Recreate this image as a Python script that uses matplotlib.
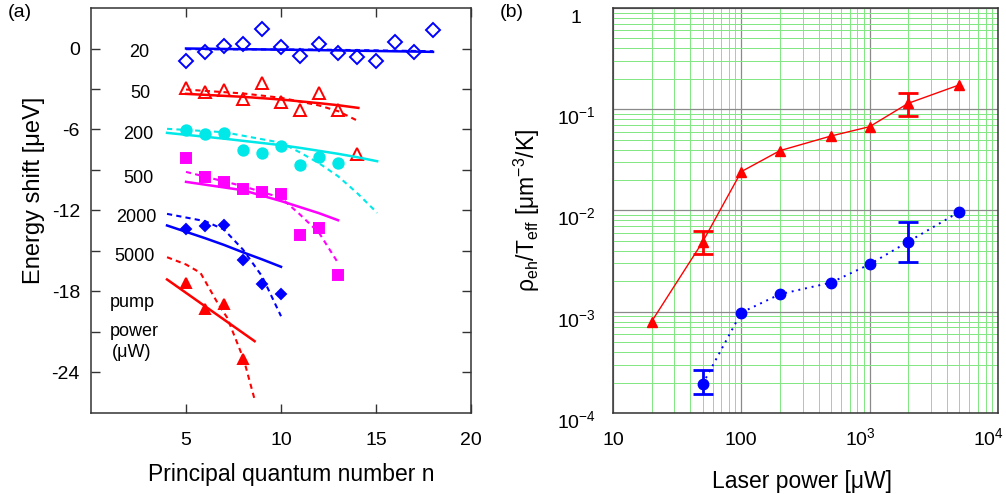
import numpy as np
import matplotlib
matplotlib.use("Agg")
import matplotlib.pyplot as plt
from matplotlib.ticker import LogLocator, NullFormatter, FixedLocator, FixedFormatter
from matplotlib.transforms import ScaledTranslation

plt.rcParams['font.family'] = ['Liberation Sans', 'DejaVu Sans']
plt.rcParams['mathtext.fontset'] = 'custom'
plt.rcParams['mathtext.rm'] = 'Liberation Sans'
plt.rcParams['mathtext.it'] = 'Liberation Sans:italic'
plt.rcParams['mathtext.bf'] = 'Liberation Sans:bold'
plt.rcParams['axes.unicode_minus'] = False

# ---- (a) energy shift vs principal quantum number, one set per pump power ----
n_20 = list(range(5, 19))
shift_20 = [-0.9, -0.27, 0.17, 0.30, 1.46, 0.12, -0.57, 0.30, -0.37, -0.64, -0.96, 0.47, -0.27, 1.38]
n_50 = list(range(5, 15))
shift_50 = [-2.91, -3.23, -3.04, -3.73, -2.54, -3.95, -4.52, -3.33, -4.52, -7.85]
n_200 = list(range(5, 14))
shift_200 = [-6.07, -6.35, -6.25, -7.53, -7.73, -7.23, -8.64, -8.05, -8.45]
n_500 = list(range(5, 14))
shift_500 = [-8.12, -9.53, -9.9, -10.44, -10.62, -10.81, -13.85, -13.26, -16.79]
n_2000 = list(range(5, 11))
shift_2000 = [-13.36, -13.16, -13.06, -15.7, -17.48, -18.17]
n_5000 = [5, 6, 7, 8]
shift_5000 = [-17.36, -19.28, -18.91, -22.99]

# model curves (solid and dotted) for each power
fit20_n = [5, 12, 18]
fit20_solid = [0.0, -0.12, -0.25]
fit20_dot = [-0.05, -0.08, -0.2]
fit50_n = [5, 8, 10, 12, 13, 14.07]
fit50_solid = [-3.36, -3.58, -3.78, -4.05, -4.2, -4.4]
fit50_dot = [-3.04, -3.33, -3.65, -4.22, -4.64, -5.38]
fit200_n = [4, 7, 10, 11, 12, 13, 14, 15.06]
fit200_solid = [-6.25, -6.68, -7.16, -7.36, -7.58, -7.8, -8.05, -8.35]
fit200_dot = [-5.95, -6.2, -6.98, -7.7, -8.5, -9.46, -10.7, -12.17]
fit500_n = [5, 8, 10, 11, 12, 13]
fit500_solid = [-9.88, -10.5, -11.3, -11.75, -12.2, -12.72]
fit500_dot = [-9.14, -10.2, -11.06, -12.3, -13.65, -15.88]
fit2000_n = [4, 6, 7, 8, 9, 10]
fit2000_solid = [-13.11, -14.05, -14.55, -15.1, -15.62, -16.17]
fit2000_dot = [-12.25, -12.79, -13.41, -14.9, -16.87, -19.83]
fit5000_n = [4, 8.61]
fit5000_solid = [-17.11, -21.68]
fit5000_dot_n = [4, 5, 5.76, 6.64, 7.17, 8.04, 8.61]
fit5000_dot = [-15.46, -16.0, -16.62, -18.8, -19.95, -23.04, -26.0]

power_labels = ['20', '50', '200', '500', '2000', '5000']
label_x = [2.56, 2.6, 2.5, 2.52, 2.38, 2.27]
label_y = [-0.3, -3.33, -6.37, -9.63, -12.5, -15.4]

# ---- (b) density / temperature vs laser power ----
power_tri = [20, 50, 100, 200, 500, 1000, 2000, 5000]
rho_tri = [8.0e-4, 4.9e-3, 0.0242, 0.039, 0.0544, 0.0673, 0.1145, 0.174]
tri_err_idx = [1, 6]
tri_err_lo = [3.7e-3, 0.0857]
tri_err_hi = [6.3e-3, 0.146]

power_dot = [50, 100, 200, 500, 1000, 2000, 5000]
rho_dot = [1.93e-4, 9.8e-4, 1.49e-3, 1.94e-3, 2.94e-3, 4.92e-3, 9.7e-3]
dot_err_idx = [0, 5]
dot_err_lo = [1.54e-4, 3.12e-3]
dot_err_hi = [2.66e-4, 7.76e-3]

fig = plt.figure(figsize=(10.06, 4.94), dpi=100)
ax1 = fig.add_axes([0.0905, 0.164, 0.3777, 0.8198])
ax2 = fig.add_axes([0.6093, 0.164, 0.3827, 0.8198])

blue = '#0000ff'
red = '#ff0000'
cyan = '#00e8e8'
magenta = '#ff00ff'
dash = (0, (2.5, 2))

sets = [
    (n_20, shift_20, blue, 'D', False, 7, fit20_n, fit20_solid, fit20_n, fit20_dot),
    (n_50, shift_50, red, '^', False, 8.5, fit50_n, fit50_solid, fit50_n, fit50_dot),
    (n_200, shift_200, cyan, 'o', True, 7.5, fit200_n, fit200_solid, fit200_n, fit200_dot),
    (n_500, shift_500, magenta, 's', True, 6.5, fit500_n, fit500_solid, fit500_n, fit500_dot),
    (n_2000, shift_2000, blue, 'D', True, 5.5, fit2000_n, fit2000_solid, fit2000_n, fit2000_dot),
    (n_5000, shift_5000, red, '^', True, 7.5, fit5000_n, fit5000_solid, fit5000_dot_n, fit5000_dot),
]
for n, e, c, m, filled, ms, sn, se, dn, de in sets:
    ax1.plot(sn, se, color=c, lw=1.8)
    ax1.plot(dn, de, color=c, lw=1.5, linestyle=dash)
    ax1.plot(n, e, linestyle='none', marker=m, ms=ms, mew=1.4,
             mec=c, mfc=c if filled else 'none')

for txt, x, y in zip(power_labels, label_x, label_y):
    ax1.text(x, y, txt, ha='center', va='center', fontsize=13)
ax1.text(1.0, -18.8, 'pump', ha='left', va='center', fontsize=13)
ax1.text(1.0, -20.96, 'power', ha='left', va='center', fontsize=13)
ax1.text(1.1, -22.5, '(μW)', ha='left', va='center', fontsize=13)

ax1.set_xlim(0, 20)
ax1.set_ylim(-27, 3)
ax1.set_xticks([5, 10, 15, 20])
ax1.set_yticks([-24, -18, -12, -6, 0])
ax1.set_yticks([-21, -15, -9, -3], minor=True)
ax1.tick_params(which='both', direction='in', top=True, right=True,
                length=6.5, width=1, labelsize=14, color='#333333')
ax1.tick_params(axis='x', pad=14)
ax1.tick_params(axis='y', pad=8)
for s in ax1.spines.values():
    s.set_linewidth(1.1)
    s.set_color('#333333')
ax1.set_xlabel('Principal quantum number n', fontsize=16.5)
ax1.set_ylabel('Energy shift [μeV]', fontsize=17)
ax1.xaxis.set_label_coords(0.526, -0.123)
ax1.yaxis.set_label_coords(-0.121, 0.55)

# ---- (b) ----
ax2.set_xscale('log')
ax2.set_yscale('log')
ax2.set_xlim(10, 1e4)
ax2.set_ylim(1e-4, 1)

ax2.xaxis.set_major_locator(FixedLocator([10, 100, 1e3, 1e4]))
ax2.xaxis.set_major_formatter(FixedFormatter(['10', '100', r'$10^{3}$', r'$10^{4}$']))
ax2.yaxis.set_major_locator(FixedLocator([1e-4, 1e-3, 1e-2, 1e-1, 1]))
ax2.yaxis.set_major_formatter(FixedFormatter([r'$10^{-4}$', r'$10^{-3}$', r'$10^{-2}$',
                                              r'$10^{-1}$', '1']))
for axis in (ax2.xaxis, ax2.yaxis):
    axis.set_minor_locator(LogLocator(base=10, subs=np.arange(2, 10), numticks=20))
    axis.set_minor_formatter(NullFormatter())

ax2.grid(which='minor', color='#80e880', lw=0.7)
ax2.grid(which='major', color='#8a8a8a', lw=0.9)
ax2.set_axisbelow(True)
ax2.tick_params(which='both', length=0, labelsize=14)
ax2.tick_params(axis='x', pad=23)
ax2.tick_params(axis='y', pad=12.5)
for s in ax2.spines.values():
    s.set_linewidth(1.1)
    s.set_color('#333333')

# line the powers of ten up on the baseline of "10"
for lbl in ax2.get_xticklabels():
    lbl.set_va('baseline')
    if lbl.get_text().startswith('$'):
        lbl.set_transform(lbl.get_transform() +
                          ScaledTranslation(-9 / 100, 0, fig.dpi_scale_trans))
for lbl in ax2.get_yticklabels():
    lbl.set_va('baseline')
    dx = -14 / 100 if lbl.get_text() == '1' else 0
    lbl.set_transform(lbl.get_transform() +
                      ScaledTranslation(dx, -15 / 100, fig.dpi_scale_trans))

ax2.plot(power_tri, rho_tri, color=red, lw=1, marker='^', ms=7.5)
ax2.plot(power_dot, rho_dot, color=blue, lw=1.4, linestyle=(0, (1, 2.5)),
         marker='o', ms=7.5)

tri_x = [power_tri[i] for i in tri_err_idx]
tri_y = [rho_tri[i] for i in tri_err_idx]
ax2.errorbar(tri_x, tri_y,
             yerr=[np.subtract(tri_y, tri_err_lo), np.subtract(tri_err_hi, tri_y)],
             fmt='none', ecolor=red, elinewidth=2, capsize=7, capthick=2)
dot_x = [power_dot[i] for i in dot_err_idx]
dot_y = [rho_dot[i] for i in dot_err_idx]
ax2.errorbar(dot_x, dot_y,
             yerr=[np.subtract(dot_y, dot_err_lo), np.subtract(dot_err_hi, dot_y)],
             fmt='none', ecolor=blue, elinewidth=2, capsize=7, capthick=2)

ax2.set_xlabel('Laser power [μW]', fontsize=16.5)
ax2.set_ylabel(r'ρ$_{\rm eh}$/T$_{\rm eff}$ [μm$^{-3}$/K]', fontsize=16.5)
ax2.xaxis.set_label_coords(0.49, -0.141)
ax2.yaxis.set_label_coords(-0.184, 0.501)

fig.text(0.008, 0.975, '(a)', fontsize=14, va='center', ha='left')
fig.text(0.497, 0.975, '(b)', fontsize=14, va='center', ha='left')

fig.savefig('out.png', dpi=100)
